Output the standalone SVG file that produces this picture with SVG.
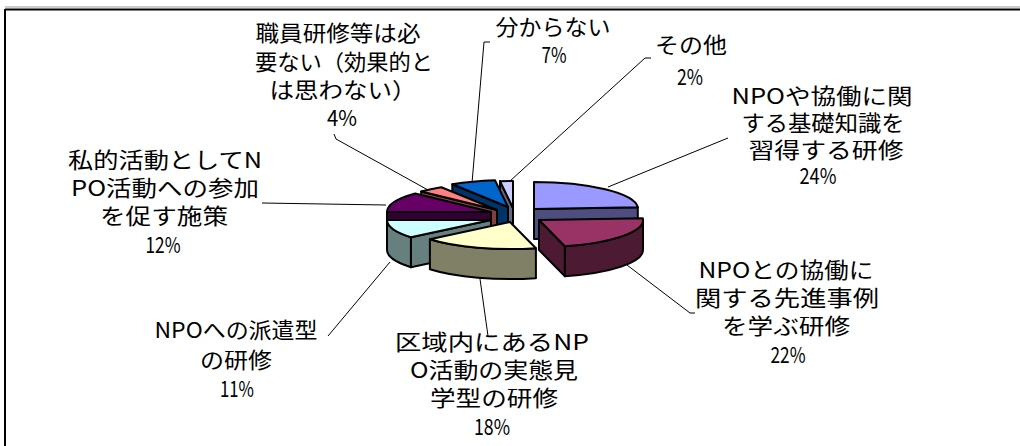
<svg xmlns="http://www.w3.org/2000/svg" width="1020" height="446" viewBox="0 0 1020 446">
<style>
.f{stroke:#000;stroke-width:2;stroke-linejoin:round}
.ld{fill:none;stroke:#000;stroke-width:1}
text{font-family:"Noto Sans CJK JP","Liberation Sans",sans-serif;font-size:22px;fill:#000;text-anchor:middle}
</style>
<rect x="0" y="0" width="1020" height="446" fill="#fff"/>
<g id="frame">
<line x1="5" y1="7" x2="1020" y2="7" stroke="#999" stroke-width="1"/>
<line x1="5" y1="9.5" x2="1020" y2="9.5" stroke="#000" stroke-width="2"/>
<line x1="5" y1="9" x2="5" y2="446" stroke="#000" stroke-width="2"/>
</g>
<g id="connectors">
<polyline class="ld" points="608,187 728,138"/>
<polyline class="ld" points="627,265 690,313 695,313"/>
<polyline class="ld" points="480,279 488,336"/>
<polyline class="ld" points="390,262 328,336"/>
<polyline class="ld" points="386,205 262,203"/>
<polyline class="ld" points="428,190 336,139 334,134"/>
<polyline class="ld" points="472,183 484,42 490,42"/>
<polyline class="ld" points="510,181 645,58 651,58"/>
</g>
<g id="slice8">
<path class="f" fill="#666680" d="M513,208 L500,181.2 L500,211.2 L513,238 Z"/>
<path class="f" fill="#CCCCFF" d="M513,208 L500,181.2 A104,27 0 0,1 513,181 Z"/>
</g>
<g id="slice7">
<path class="f" fill="#003366" d="M508,207 L452.3,184.2 L452.3,214.2 L508,237 Z"/>
<path class="f" fill="#0066CC" d="M508,207 L452.3,184.2 A104,27 0 0,1 495,180.2 Z"/>
</g>
<g id="slice6">
<path class="f" fill="#804040" d="M497,210 L421.2,191.5 L421.2,221.5 L497,240 Z"/>
<path class="f" fill="#FF8080" d="M497,210 L421.2,191.5 A104,27 0 0,1 441.3,187.2 Z"/>
</g>
<g id="slice1">
<path class="f" fill="#4D4D80" d="M534,209 L637.8,207.3 L637.8,237.3 L534,239 Z"/>
<path class="f" fill="#9999FF" d="M534,209 L534,182 A104,27 0 0,1 637.8,207.3 Z"/>
</g>
<g id="slice5">
<path class="f" fill="#330033" d="M491,212 L387,212 L387,242 L491,242 Z"/>
<path class="f" fill="#660066" d="M491,212 L387,212 A104,27 0 0,1 415.2,193.5 Z"/>
</g>
<g id="slice4">
<path class="f" fill="#668080" d="M491,220 L410.9,237.2 L410.9,267.2 L491,250 Z"/>
<path class="f" fill="#668080" d="M410.9,237.2 A104,27 0 0,1 387,220 L387,250 A104,27 0 0,0 410.9,267.2 Z"/>
<path class="f" fill="#CCFFFF" d="M491,220 L410.9,237.2 A104,27 0 0,1 387,220 Z"/>
</g>
<g id="slice2">
<path class="f" fill="#4D1A33" d="M539,220 L564.9,246.2 L564.9,276.2 L539,250 Z"/>
<path class="f" fill="#4D1A33" d="M643,220 A104,27 0 0,1 564.9,246.2 L564.9,276.2 A104,27 0 0,0 643,250 Z"/>
<path class="f" fill="#993366" d="M539,220 L642.8,218.3 A104,27 0 0,1 564.9,246.2 Z"/>
</g>
<g id="slice3">
<path class="f" fill="#808066" d="M535.9,248.2 A104,27 0 0,1 429.9,239.2 L429.9,269.2 A104,27 0 0,0 535.9,278.2 Z"/>
<path class="f" fill="#FFFFCC" d="M510,222 L535.9,248.2 A104,27 0 0,1 429.9,239.2 Z"/>
</g>
<g id="label1">
<text x="822" y="104" textLength="181" lengthAdjust="spacingAndGlyphs">NPOや協働に関</text>
<text x="823" y="131" textLength="163" lengthAdjust="spacingAndGlyphs">する基礎知識を</text>
<text x="826" y="158" textLength="155" lengthAdjust="spacingAndGlyphs">習得する研修</text>
<text x="818" y="184" textLength="37" lengthAdjust="spacingAndGlyphs">24%</text>
</g>
<g id="label2">
<text x="786" y="278" textLength="175" lengthAdjust="spacingAndGlyphs">NPOとの協働に</text>
<text x="787" y="306" textLength="184" lengthAdjust="spacingAndGlyphs">関する先進事例</text>
<text x="786" y="334" textLength="128" lengthAdjust="spacingAndGlyphs">を学ぶ研修</text>
<text x="788" y="363" textLength="35" lengthAdjust="spacingAndGlyphs">22%</text>
</g>
<g id="label3">
<text x="492" y="350" textLength="194" lengthAdjust="spacingAndGlyphs">区域内にあるNP</text>
<text x="494" y="378" textLength="168" lengthAdjust="spacingAndGlyphs">O活動の実態見</text>
<text x="494" y="406" textLength="128" lengthAdjust="spacingAndGlyphs">学型の研修</text>
<text x="492" y="435" textLength="36" lengthAdjust="spacingAndGlyphs">18%</text>
</g>
<g id="label4">
<text x="236" y="338" textLength="163" lengthAdjust="spacingAndGlyphs">NPOへの派遣型</text>
<text x="236" y="368" textLength="72" lengthAdjust="spacingAndGlyphs">の研修</text>
<text x="237" y="397" textLength="34" lengthAdjust="spacingAndGlyphs">11%</text>
</g>
<g id="label5">
<text x="165" y="168" textLength="194" lengthAdjust="spacingAndGlyphs">私的活動としてN</text>
<text x="165" y="196" textLength="188" lengthAdjust="spacingAndGlyphs">PO活動への参加</text>
<text x="164" y="224" textLength="128" lengthAdjust="spacingAndGlyphs">を促す施策</text>
<text x="163" y="253" textLength="35" lengthAdjust="spacingAndGlyphs">12%</text>
</g>
<g id="label6">
<text x="338" y="41" textLength="165" lengthAdjust="spacingAndGlyphs">職員研修等は必</text>
<text x="344" y="70" textLength="178" lengthAdjust="spacingAndGlyphs">要ない（効果的と</text>
<text x="343" y="98" textLength="147" lengthAdjust="spacingAndGlyphs">は思わない）</text>
<text x="342" y="126" textLength="30" lengthAdjust="spacingAndGlyphs">4%</text>
</g>
<g id="label7">
<text x="553" y="35" textLength="115" lengthAdjust="spacingAndGlyphs">分からない</text>
<text x="554" y="63" textLength="25" lengthAdjust="spacingAndGlyphs">7%</text>
</g>
<g id="label8">
<text x="691" y="53" textLength="72" lengthAdjust="spacingAndGlyphs">その他</text>
<text x="690" y="85" textLength="26" lengthAdjust="spacingAndGlyphs">2%</text>
</g>
</svg>
